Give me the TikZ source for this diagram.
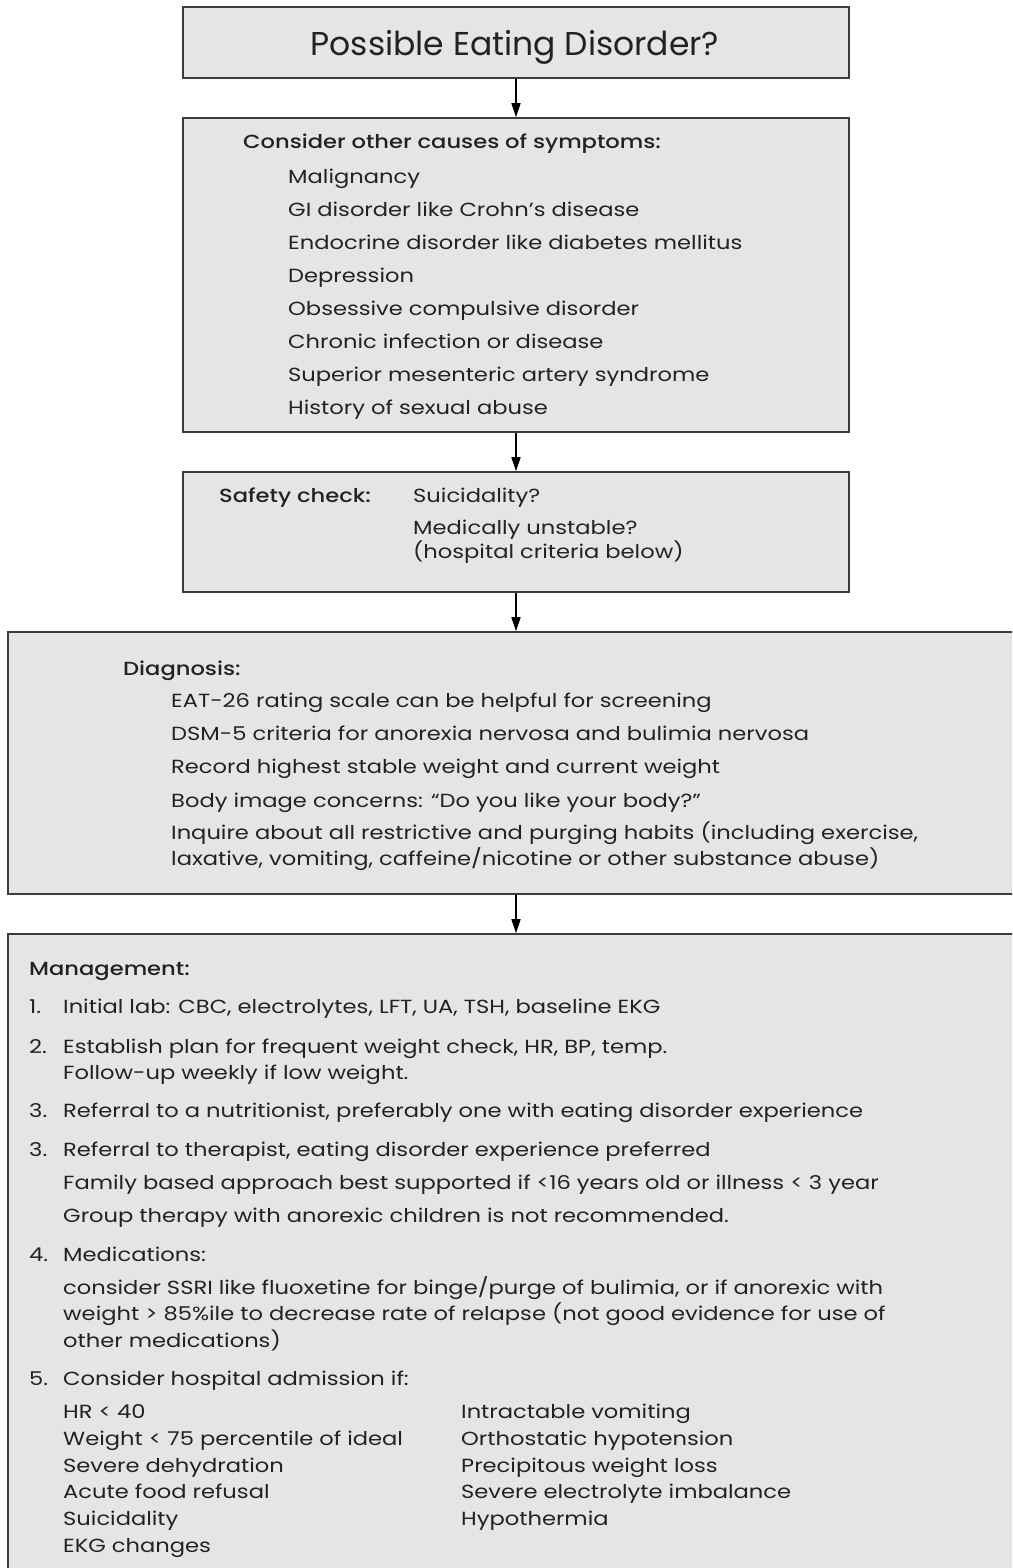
\documentclass[tikz,border=0pt]{standalone}
\usepackage{fontspec}
\setmainfont{Poppins}[BoldFont={Poppins Medium}, FakeStretch=1.19]
\newfontfamily\titlefont{Poppins}
\usetikzlibrary{arrows.meta}
\definecolor{boxfill}{HTML}{E4E5E7}
\definecolor{boxline}{HTML}{3C3C3C}
\definecolor{txt}{HTML}{222222}
\tikzset{
  flowbox/.style={draw=boxline, line width=1.6pt, fill=boxfill, inner sep=0pt},
  flowarrow/.style={draw=black, line width=1.6pt, -{Triangle[length=14pt,width=9pt]}},
  body/.style={anchor=base west, inner sep=0pt, text=txt, font=\fontsize{19}{23}\selectfont},
  head/.style={body, font=\fontsize{19}{23}\selectfont\bfseries},
  titletext/.style={anchor=base, inner sep=0pt, text=txt, font=\titlefont\fontsize{33}{40}\selectfont},
}
\begin{document}
\begin{tikzpicture}[x=1pt,y=-1pt]
\useasboundingbox (0,0) rectangle (1012,1568);
\clip (0,0) rectangle (1012,1568);
\fill[white] (0,0) rectangle (1012,1568);

% boxes
\node[flowbox, minimum width=666pt, minimum height=71pt] (b1) at (516,42.5) {};
\node[flowbox, minimum width=666pt, minimum height=314pt] (b2) at (516,275) {};
\node[flowbox, minimum width=666pt, minimum height=120pt] (b3) at (516,532) {};
\node[flowbox, minimum width=1022pt, minimum height=262pt] (b4) at (519,763) {};
\node[flowbox, minimum width=1022pt, minimum height=666pt] (b5) at (519,1267) {};

% arrows
\draw[flowarrow] (b1.south) -- (b2.north);
\draw[flowarrow] (b2.south) -- (b3.north);
\draw[flowarrow] (b3.south) -- (b3.south |- b4.north);
\draw[flowarrow] (b3.south |- b4.south) -- (b3.south |- b5.north);

% box 1
\node[titletext] (t1) at (515,56) {Possible Eating Disorder?};

% box 2
\node[head] (c0) at (243,149) {Consider other causes of symptoms:};
\node[body] (c1) at (288,183) {Malignancy};
\node[body] (c2) at (288,216) {GI disorder like Crohn’s disease};
\node[body] (c3) at (288,249) {Endocrine disorder like diabetes mellitus};
\node[body] (c4) at (288,282) {Depression};
\node[body] (c5) at (288,315) {Obsessive compulsive disorder};
\node[body] (c6) at (288,348) {Chronic infection or disease};
\node[body] (c7) at (288,381) {Superior mesenteric artery syndrome};
\node[body] (c8) at (288,414) {History of sexual abuse};

% box 3
\node[head] (s0) at (219,502) {Safety check:};
\node[body] (s1) at (413,502) {Suicidality?};
\node[body] (s2) at (413,534) {Medically unstable?};
\node[body] (s3) at (413,558) {(hospital criteria below)};

% box 4
\node[head] (d0) at (123,675) {Diagnosis:};
\node[body] (d1) at (171,707) {EAT-26 rating scale can be helpful for screening};
\node[body] (d2) at (171,740) {DSM-5 criteria for anorexia nervosa and bulimia nervosa};
\node[body] (d3) at (171,773) {Record highest stable weight and current weight};
\node[body] (d4) at (171,807) {Body image concerns: “Do you like your body?”};
\node[body] (d5) at (171,839) {Inquire about all restrictive and purging habits (including exercise,};
\node[body] (d6) at (171,865) {laxative, vomiting, caffeine/nicotine or other substance abuse)};

% box 5
\node[head] (m0) at (29,975) {Management:};
\node[body] (n1) at (29,1013) {1.};
\node[body] (m1) at (63,1013) {Initial lab: CBC, electrolytes, LFT, UA, TSH, baseline EKG};
\node[body] (n2) at (29,1053) {2.};
\node[body] (m2) at (63,1053) {Establish plan for frequent weight check, HR, BP, temp.};
\node[body] (m2b) at (63,1079) {Follow-up weekly if low weight.};
\node[body] (n3) at (29,1117) {3.};
\node[body] (m3) at (63,1117) {Referral to a nutritionist, preferably one with eating disorder experience};
\node[body] (n3b) at (29,1156) {3.};
\node[body] (m4) at (63,1156) {Referral to therapist, eating disorder experience preferred};
\node[body] (m4b) at (63,1189) {Family based approach best supported if <16 years old or illness < 3 year};
\node[body] (m4c) at (63,1222) {Group therapy with anorexic children is not recommended.};
\node[body] (n4) at (29,1261) {4.};
\node[body] (m5) at (63,1261) {Medications:};
\node[body] (m5a) at (63,1294) {consider SSRI like fluoxetine for binge/purge of bulimia, or if anorexic with};
\node[body] (m5b) at (63,1320) {weight > 85\%ile to decrease rate of relapse (not good evidence for use of};
\node[body] (m5c) at (63,1347) {other medications)};
\node[body] (n5) at (29,1385) {5.};
\node[body] (m6) at (63,1385) {Consider hospital admission if:};
\node[body] (h1) at (63,1418) {HR < 40};
\node[body] (h2) at (63,1445) {Weight < 75 percentile of ideal};
\node[body] (h3) at (63,1472) {Severe dehydration};
\node[body] (h4) at (63,1498) {Acute food refusal};
\node[body] (h5) at (63,1525) {Suicidality};
\node[body] (h6) at (63,1552) {EKG changes};
\node[body] (k1) at (461,1418) {Intractable vomiting};
\node[body] (k2) at (461,1445) {Orthostatic hypotension};
\node[body] (k3) at (461,1472) {Precipitous weight loss};
\node[body] (k4) at (461,1498) {Severe electrolyte imbalance};
\node[body] (k5) at (461,1525) {Hypothermia};
\end{tikzpicture}
\end{document}
